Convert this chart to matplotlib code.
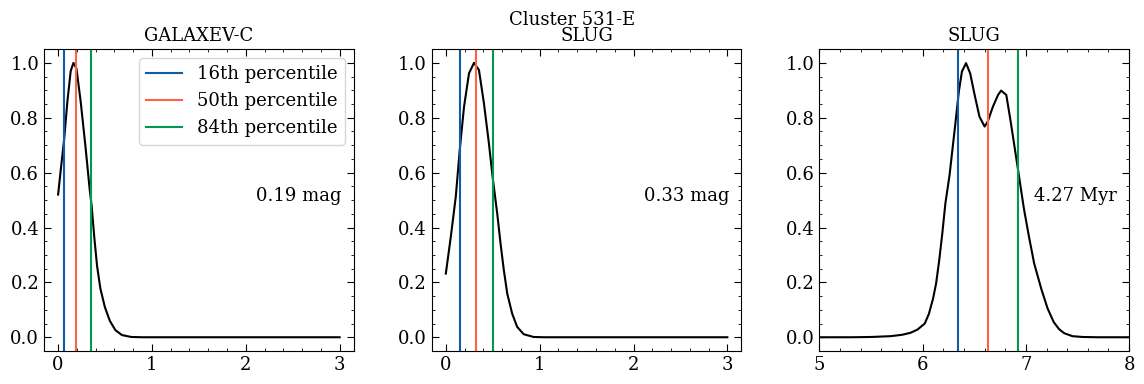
import matplotlib
matplotlib.use("Agg")
import matplotlib.pyplot as plt
from matplotlib.ticker import AutoMinorLocator

plt.rcParams['font.family'] = ['DejaVu Serif']
plt.rcParams['font.size'] = 13

# distribution curves
galaxev_x = [0.000, 0.028, 0.064, 0.099, 0.134, 0.163, 0.195, 0.240, 0.293, 0.336,
             0.357, 0.385, 0.415, 0.450, 0.498, 0.551, 0.610, 0.680, 0.780, 0.900,
             1.500, 2.000, 2.500, 3.000]
galaxev_y = [0.520, 0.610, 0.720, 0.860, 0.970, 1.000, 0.980, 0.860, 0.690, 0.540,
             0.480, 0.366, 0.260, 0.178, 0.110, 0.060, 0.026, 0.008, 0.001, 0.0,
             0.0, 0.0, 0.0, 0.0]

slug_ext_x = [0.000, 0.053, 0.106, 0.148, 0.194, 0.247, 0.300, 0.353, 0.406, 0.459,
              0.500, 0.548, 0.583, 0.618, 0.654, 0.707, 0.760, 0.830, 0.936, 1.050,
              1.500, 2.000, 2.500, 3.000]
slug_ext_y = [0.232, 0.366, 0.512, 0.682, 0.840, 0.962, 1.000, 0.974, 0.853, 0.707,
              0.580, 0.450, 0.342, 0.245, 0.160, 0.086, 0.038, 0.011, 0.001, 0.0,
              0.0, 0.0, 0.0, 0.0]

age_x = [5.00, 5.30, 5.50, 5.69, 5.80, 5.88, 5.95, 6.02, 6.06, 6.10, 6.13, 6.16, 6.19,
         6.22, 6.26, 6.29, 6.32, 6.35, 6.38, 6.42, 6.46, 6.50, 6.55, 6.60, 6.63,
         6.68, 6.73, 6.76, 6.81, 6.85, 6.92, 6.98, 7.03, 7.08, 7.15, 7.21, 7.27,
         7.32, 7.37, 7.45, 7.55, 7.70, 8.00]
age_y = [0.0, 0.0, 0.001, 0.004, 0.009, 0.016, 0.028, 0.050, 0.085, 0.140, 0.196, 0.280,
         0.378, 0.488, 0.590, 0.690, 0.790, 0.895, 0.968, 0.999, 0.962, 0.889, 0.804,
         0.768, 0.786, 0.840, 0.883, 0.899, 0.883, 0.792, 0.620, 0.470, 0.366, 0.269,
         0.175, 0.105, 0.055, 0.030, 0.015, 0.004, 0.001, 0.0, 0.0]

# 16th, 50th, 84th percentiles
galaxev_pct = [0.064, 0.19, 0.347]
slug_ext_pct = [0.148, 0.326, 0.50]
age_pct = [6.345, 6.63, 6.92]

labels = ["0.19 mag", "0.33 mag", "4.27 Myr"]
titles = ["GALAXEV-C", "SLUG", "SLUG"]
pct_names = ["16th percentile", "50th percentile", "84th percentile"]
pct_colors = ["#0C5DA5", "#FF6347", "#00994F"]

fig, axes = plt.subplots(1, 3, figsize=(11.44, 3.84), dpi=100)
fig.subplots_adjust(left=0.0385, right=0.987, top=0.872, bottom=0.086, wspace=0.252)

curves = [(galaxev_x, galaxev_y, galaxev_pct), (slug_ext_x, slug_ext_y, slug_ext_pct),
          (age_x, age_y, age_pct)]

for i, ax in enumerate(axes):
    x, y, pct = curves[i]
    ax.plot(x, y, color='k', lw=1.5)
    for p, c, n in zip(pct, pct_colors, pct_names):
        ax.axvline(p, color=c, lw=1.5, label=n)
    ax.set_title(titles[i], fontsize=13)
    ax.text(0.96, 0.515, labels[i], transform=ax.transAxes, ha='right', va='center', fontsize=13)
    ax.set_ylim(-0.05, 1.05)
    ax.set_yticks([0.0, 0.2, 0.4, 0.6, 0.8, 1.0])
    ax.xaxis.set_minor_locator(AutoMinorLocator())
    ax.yaxis.set_minor_locator(AutoMinorLocator())
    ax.tick_params(which='both', direction='in', top=True, right=True, labelsize=13)
    ax.tick_params(which='major', length=5)
    ax.tick_params(which='minor', length=2.5)

axes[0].set_xticks([0, 1, 2, 3])
axes[1].set_xticks([0, 1, 2, 3])
axes[2].set_xlim(5, 8)
axes[2].set_xticks([5, 6, 7, 8])

axes[0].legend(loc='upper right', fontsize=13, handlelength=2.0)
fig.suptitle("Cluster 531-E", fontsize=13, y=0.972)

fig.savefig("out.png", dpi=100)
